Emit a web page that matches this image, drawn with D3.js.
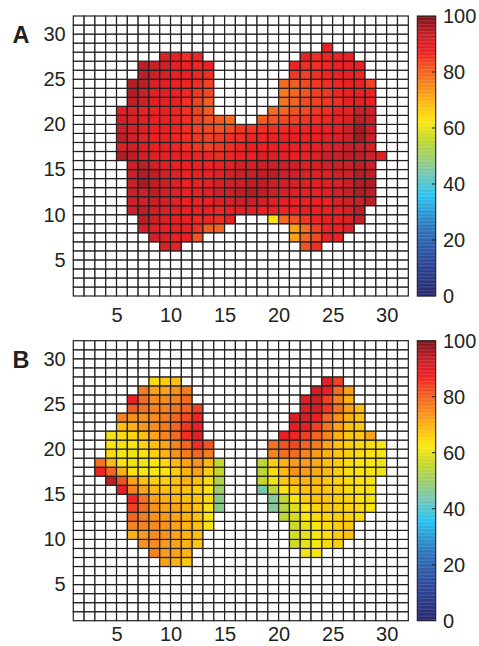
<!DOCTYPE html>
<html>
<head>
<meta charset="utf-8">
<script src="https://cdn.jsdelivr.net/npm/d3@7"></script>
<style>
body { margin: 0; background: #fff; }
text { font-family: "Liberation Sans", Arial, Helvetica, sans-serif; fill: #231f20; }
</style>
</head>
<body>
<svg id="chart" width="479" height="646"></svg>
<script>
// Ticks
var xTicks = [5, 10, 15, 20, 25, 30];
var yTicks = [5, 10, 15, 20, 25, 30];
var cbarTicks = [0, 20, 40, 60, 80, 100];

// Cell values, one segment per entry: [row, first column, values...]
var panelA = [
  [28, 24, [88]],
  [27, 9, [90, 88, 86, 87]],
  [27, 22, [88, 86, 87, 88, 88]],
  [26, 7, [94, 93, 92, 88, 88, 87, 88]],
  [26, 21, [87, 86, 86, 87, 88, 88, 88]],
  [25, 7, [94, 93, 91, 88, 88, 87, 86]],
  [25, 21, [85, 84, 86, 87, 88, 88, 87]],
  [24, 6, [95, 94, 91, 89, 88, 87, 86, 84]],
  [24, 20, [79, 81, 83, 85, 86, 87, 88, 88, 84]],
  [23, 6, [95, 93, 90, 89, 88, 87, 85, 83]],
  [23, 20, [77, 80, 82, 84, 85, 87, 88, 88, 88]],
  [22, 6, [94, 92, 89, 88, 88, 86, 84, 81]],
  [22, 20, [78, 80, 83, 84, 85, 86, 88, 88, 88]],
  [21, 5, [90, 91, 88, 88, 88, 87, 86, 84, 81]],
  [21, 19, [79, 80, 82, 83, 85, 86, 88, 88, 93, 92]],
  [20, 5, [92, 91, 89, 88, 88, 87, 86, 84, 82, 81, 79]],
  [20, 18, [81, 82, 83, 84, 85, 86, 87, 88, 90, 94, 93]],
  [19, 5, [93, 91, 89, 88, 88, 87, 86, 84, 83, 82, 83, 85, 85, 86, 86, 86, 87, 87, 88, 88, 89, 92, 96, 93]],
  [18, 5, [94, 92, 89, 88, 88, 87, 86, 85, 84, 85, 86, 86, 87, 87, 88, 88, 88, 88, 88, 89, 90, 92, 96, 93]],
  [17, 5, [90, 93, 90, 88, 88, 87, 86, 85, 84, 85, 86, 87, 88, 88, 88, 88, 88, 88, 89, 90, 91, 93, 93, 92]],
  [16, 5, [95, 94, 92, 90, 88, 88, 88, 87, 87, 86, 87, 88, 88, 90, 90, 89, 88, 88, 90, 93, 93, 94, 94, 92, 89]],
  [15, 6, [93, 94, 92, 90, 88, 88, 88, 88, 88, 90, 92, 92, 93, 93, 93, 92, 90, 91, 92, 93, 93, 94, 93]],
  [14, 6, [93, 95, 94, 92, 89, 88, 88, 88, 89, 91, 93, 93, 94, 94, 93, 92, 90, 90, 90, 92, 92, 95, 94]],
  [13, 6, [93, 96, 94, 93, 90, 88, 88, 89, 91, 92, 93, 94, 94, 93, 92, 91, 90, 89, 90, 91, 93, 95, 95]],
  [12, 6, [93, 93, 94, 92, 89, 88, 88, 89, 92, 93, 94, 95, 94, 93, 91, 89, 88, 88, 89, 91, 93, 95, 94]],
  [11, 6, [92, 92, 93, 92, 89, 88, 88, 88, 90, 92, 93, 93, 92, 90, 89, 88, 88, 88, 88, 91, 92, 93, 94]],
  [10, 6, [93, 94, 93, 91, 89, 88, 88, 88, 87, 88, 90, 89, 88, 88, 87, 88, 88, 88, 88, 89, 91, 94]],
  [9, 7, [94, 93, 90, 88, 88, 87, 87, 86, 88]],
  [9, 19, [63, 79, 82, 85, 87, 88, 88, 90, 93]],
  [8, 7, [91, 90, 88, 88, 88, 86, 81, 80]],
  [8, 21, [72, 79, 84, 87, 88, 90]],
  [7, 8, [92, 90, 88, 88, 82]],
  [7, 21, [72, 80, 83, 88, 88]],
  [6, 9, [90, 88]],
  [6, 22, [82, 86]]
];

var panelB = [
  [27, 8, [64, 66, 68]],
  [27, 24, [89, 84]],
  [26, 7, [77, 72, 72, 74, 77]],
  [26, 23, [92, 88, 79, 72]],
  [25, 6, [88, 79, 75, 75, 76, 79]],
  [25, 22, [90, 93, 84, 76, 70]],
  [24, 6, [81, 78, 76, 76, 78, 80, 84]],
  [24, 22, [90, 92, 85, 78, 72, 68]],
  [23, 5, [76, 74, 74, 75, 77, 80, 83, 87]],
  [23, 21, [91, 92, 88, 80, 74, 70, 68]],
  [22, 5, [68, 70, 73, 75, 77, 80, 85, 88]],
  [22, 21, [89, 89, 84, 78, 72, 68, 67]],
  [21, 4, [61, 64, 65, 68, 72, 76, 79, 86, 90]],
  [21, 20, [88, 87, 84, 80, 76, 70, 67, 67, 72]],
  [20, 4, [63, 61, 62, 65, 68, 72, 76, 80, 86, 82]],
  [20, 19, [78, 82, 83, 80, 77, 72, 68, 66, 65, 64, 62]],
  [19, 4, [64, 62, 61, 63, 66, 70, 74, 77, 80, 77]],
  [19, 19, [76, 79, 79, 76, 73, 70, 67, 66, 64, 63, 62]],
  [18, 3, [78, 69, 63, 61, 61, 62, 65, 69, 72, 74, 69, 56]],
  [18, 18, [55, 66, 70, 73, 73, 71, 68, 66, 64, 63, 62, 61]],
  [17, 3, [87, 80, 70, 63, 62, 62, 63, 66, 70, 72, 66, 56]],
  [17, 18, [55, 64, 69, 74, 73, 71, 69, 66, 64, 63, 62, 61]],
  [16, 4, [94, 82, 72, 68, 66, 66, 68, 70, 68, 64, 53]],
  [16, 18, [56, 61, 67, 69, 70, 69, 67, 65, 64, 63, 62]],
  [15, 5, [89, 76, 72, 69, 68, 68, 68, 66, 63, 50]],
  [15, 18, [44, 55, 62, 66, 68, 68, 67, 66, 64, 63, 62]],
  [14, 6, [87, 78, 72, 70, 69, 68, 67, 64, 47]],
  [14, 19, [46, 56, 62, 66, 68, 67, 66, 65, 63, 61]],
  [13, 6, [84, 79, 74, 72, 72, 70, 68, 63, 47]],
  [13, 19, [46, 54, 59, 63, 65, 67, 66, 65, 64, 62]],
  [12, 6, [80, 77, 74, 73, 72, 70, 68, 62]],
  [12, 20, [55, 58, 62, 64, 65, 66, 65, 64]],
  [11, 6, [76, 76, 75, 74, 72, 70, 68, 62]],
  [11, 21, [57, 60, 62, 64, 66, 67]],
  [10, 6, [70, 73, 75, 74, 72, 70, 68]],
  [10, 21, [58, 60, 62, 64, 66, 68]],
  [9, 7, [74, 75, 73, 72, 70, 67]],
  [9, 21, [57, 60, 62, 64, 66]],
  [8, 8, [76, 73, 72, 70]],
  [8, 22, [61, 62]],
  [7, 9, [72, 70, 67]]
];

// Jet colormap as it looks in print
var jetStops = [0, 12.5, 25, 36, 44, 50, 56, 62.5, 69, 75, 81, 87.5, 93, 100];
var jetColors = ['#27296f', '#2e4898', '#2f78bd', '#2bc4f1', '#79c7b0', '#9fcf6a', '#c4d82e', '#fbe711',
                 '#fdb913', '#f68b1f', '#f15d22', '#ec2124', '#c9212a', '#7a1517'];
var color = d3.scaleLinear().domain(jetStops).range(jetColors).clamp(true);

var INK = '#231f20';
var FONT = 20;
var svg = d3.select('#chart');

var x = d3.scaleLinear().domain([1, 32]).range([73.3, 408.3]);

function drawPanel(rows, top, label, xPad) {
  var y = d3.scaleLinear().domain([1, 32]).range([top + 280, top]);

  // full 31x31 grid, white where there is no value
  var cells = [];
  for (var r = 1; r <= 31; r++)
    for (var c = 1; c <= 31; c++) cells.push({r: r, c: c, v: null});
  rows.forEach(function(seg) {
    seg[2].forEach(function(v, i) {
      cells[(seg[0] - 1) * 31 + seg[1] - 1 + i].v = v;
    });
  });

  var g = svg.append('g');
  g.selectAll('rect')
    .data(cells)
    .enter().append('rect')
      .attr('x', function(d) { return x(d.c); })
      .attr('y', function(d) { return y(d.r + 1); })
      .attr('width', x(2) - x(1))
      .attr('height', y(1) - y(2))
      .attr('fill', function(d) { return d.v == null ? '#fff' : color(d.v); })
      .attr('stroke', INK)
      .attr('stroke-width', 1.2);

  // x axis
  var xa = svg.append('g')
      .attr('transform', 'translate(0,' + (top + 280) + ')')
      .call(d3.axisBottom(x).tickValues(xTicks).tickSize(0).tickPadding(xPad));
  xa.select('.domain').remove();

  // y axis
  var ya = svg.append('g')
      .attr('transform', 'translate(73.3,0)')
      .call(d3.axisLeft(y).tickValues(yTicks).tickSize(0).tickPadding(7.6));
  ya.select('.domain').remove();

  // colorbar
  var cb = d3.scaleLinear().domain([0, 100]).range([top + 280, top]);
  var bands = d3.range(0, 100, 0.5);
  svg.append('g').selectAll('rect')
    .data(bands)
    .enter().append('rect')
      .attr('x', 417.3)
      .attr('y', function(d) { return cb(d + 0.5); })
      .attr('width', 18.4)
      .attr('height', cb(0) - cb(0.5) + 0.3)
      .attr('fill', function(d) { return color(d + 0.25); });
  svg.append('rect')
      .attr('x', 417.3).attr('y', top)
      .attr('width', 18.4).attr('height', 280)
      .attr('fill', 'none').attr('stroke', INK).attr('stroke-width', 1.1);
  svg.append('g').selectAll('line')
    .data(cbarTicks.slice(1, -1))
    .enter().append('line')
      .attr('x1', 432).attr('x2', 435.7)
      .attr('y1', function(d) { return cb(d); })
      .attr('y2', function(d) { return cb(d); })
      .attr('stroke', INK).attr('stroke-width', 1);
  var ca = svg.append('g')
      .attr('transform', 'translate(435.7,0)')
      .call(d3.axisRight(cb).tickValues(cbarTicks).tickSize(0).tickPadding(7.3));
  ca.select('.domain').remove();

  svg.selectAll('.tick text')
      .style('font-size', FONT + 'px')
      .style('font-family', '"Liberation Sans", Arial, Helvetica, sans-serif')
      .attr('fill', INK);

  svg.append('text')
      .attr('x', 12.4)
      .attr('y', top + 27.3)
      .style('font-size', '23.5px')
      .style('font-weight', 'bold')
      .text(label);
}

drawPanel(panelA, 16, 'A', 11.5);
// panel B sits at the bottom edge, labels nudged up to stay inside
drawPanel(panelB, 340.7, 'B', 6.6);
</script>
</body>
</html>
